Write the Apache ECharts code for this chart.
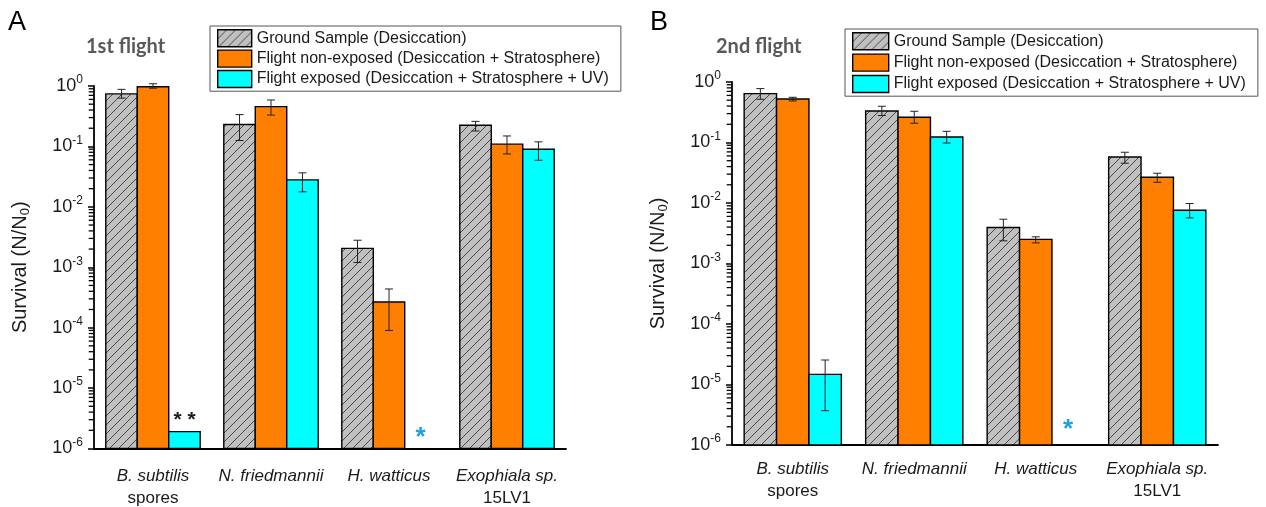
<!DOCTYPE html>
<html>
<head>
<meta charset="UTF-8">
<title>Survival after stratospheric flights</title>
<script src="https://cdn.jsdelivr.net/npm/echarts@6/dist/echarts.min.js"></script>
<style>
  html, body { margin: 0; padding: 0; background: #fff; }
  #chart { width: 1266px; height: 507px; }
</style>
</head>
<body>
<div id="chart"></div>
<script>
  const speciesNames = ['B. subtilis', 'N. friedmannii', 'H. watticus', 'Exophiala sp.'];
  const speciesExtra = ['spores', '', '', '15LV1'];
  const seriesNames = [
    'Ground Sample (Desiccation)',
    'Flight non-exposed (Desiccation + Stratosphere)',
    'Flight exposed (Desiccation + Stratosphere + UV)'
  ];

  // 1st flight: mean, lower and upper error bounds
  const ground1 = [0.74, 0.23, 0.00205, 0.224];
  const ground1Low = [0.63, 0.125, 0.0012, 0.18];
  const ground1High = [0.88, 0.336, 0.0028, 0.26];
  const nonExp1 = [0.97, 0.455, 2.66e-4, 0.109];
  const nonExp1Low = [0.92, 0.33, 9.0e-5, 0.075];
  const nonExp1High = [1.09, 0.587, 4.37e-4, 0.149];
  const exp1 = [1.9e-6, 0.0279, null, 0.0898];
  const exp1Low = [null, 0.0177, null, 0.059];
  const exp1High = [null, 0.0365, null, 0.119];

  // 2nd flight
  const ground2 = [0.643, 0.332, 0.00394, 0.0577];
  const ground2Low = [0.518, 0.279, 0.00237, 0.0454];
  const ground2High = [0.778, 0.397, 0.0054, 0.069];
  const nonExp2 = [0.525, 0.261, 0.0025, 0.0267];
  const nonExp2Low = [0.486, 0.208, 0.00219, 0.022];
  const nonExp2High = [0.559, 0.328, 0.00276, 0.031];
  const exp2 = [1.47e-5, 0.1235, null, 0.0076];
  const exp2Low = [3.69e-6, 0.098, null, 0.00568];
  const exp2High = [2.54e-5, 0.153, null, 0.0098];

  // asterisks marking samples below detection
  const notes1 = [
    { cat: 0, slot: 2, y: 2.9e-6, text: '* *', color: '#1a1a1a', size: 21 },
    { cat: 2, slot: 2, y: 1.5e-6, text: '*', color: '#1ea0e6', size: 26 }
  ];
  const notes2 = [
    { cat: 2, slot: 2, y: 1.75e-6, text: '*', color: '#1ea0e6', size: 26 }
  ];

  // minor ticks of the log axis: 2..9 in every decade
  const minorMult = [2, 3, 4, 5, 6, 7, 8, 9];
  const decades = [-6, -5, -4, -3, -2, -1];

  const FONT = 'Liberation Sans, Arial, sans-serif';

  // hatched grey fill
  const hatch = document.createElement('canvas');
  hatch.width = 9; hatch.height = 9;
  const hc = hatch.getContext('2d');
  hc.fillStyle = '#c0c0c0';
  hc.fillRect(0, 0, 9, 9);
  hc.strokeStyle = '#3a3a3a';
  hc.lineWidth = 0.9;
  hc.beginPath();
  hc.moveTo(-1, 10); hc.lineTo(10, -1);
  hc.moveTo(-1, 1); hc.lineTo(1, -1);
  hc.moveTo(8, 10); hc.lineTo(10, 8);
  hc.stroke();

  const fills = [{ image: hatch, repeat: 'repeat' }, '#ff8000', '#00ffff'];

  function rows(mean, low, high) {
    return mean.map((v, i) => [i, v, low[i], high[i]]);
  }

  function barRenderer(slot) {
    return function (params, api) {
      const v = api.value(1);
      if (!(v > 0)) return null;
      const cs = params.coordSys;
      const band = api.size([1, 1])[0];
      const bw = band * 0.8 / 3;
      const top = api.coord([api.value(0), v]);
      const cx = top[0] + (slot - 1) * bw;
      const bottom = cs.y + cs.height;
      const children = [{
        type: 'rect',
        shape: { x: cx - bw / 2, y: top[1], width: bw, height: bottom - top[1] },
        style: api.style()
      }];
      const lo = api.value(2), hi = api.value(3);
      if (lo > 0 && hi > 0) {
        const y1 = api.coord([0, lo])[1];
        const y2 = api.coord([0, hi])[1];
        const es = { stroke: '#222', lineWidth: 1 };
        children.push(
          { type: 'line', shape: { x1: cx, y1: y1, x2: cx, y2: y2 }, style: es },
          { type: 'line', shape: { x1: cx - 4, y1: y1, x2: cx + 4, y2: y1 }, style: es },
          { type: 'line', shape: { x1: cx - 4, y1: y2, x2: cx + 4, y2: y2 }, style: es }
        );
      }
      return { type: 'group', children: children };
    };
  }

  function barSeries(g, slot, data) {
    return {
      type: 'custom',
      name: seriesNames[slot],
      xAxisIndex: g, yAxisIndex: g,
      renderItem: barRenderer(slot),
      itemStyle: { color: fills[slot], borderColor: '#000', borderWidth: 1.4 },
      encode: { x: 0, y: [1, 2, 3] },
      clip: false,
      silent: true,
      z: 2,
      data: data
    };
  }

  const minorValues = [];
  decades.forEach(d => minorMult.forEach(m => minorValues.push([0, m * Math.pow(10, d)])));

  // drawn on a hidden value x axis so that x = 0 is the grid's left edge
  function minorSeries(g) {
    return {
      type: 'scatter',
      xAxisIndex: g + 2, yAxisIndex: g,
      silent: true, clip: false, z: 5,
      symbol: 'rect', symbolSize: [5, 1.3], symbolOffset: [-2.8, 0],
      itemStyle: { color: '#000', opacity: 1 },
      data: minorValues
    };
  }

  function noteSeries(g, notes) {
    return {
      type: 'custom',
      xAxisIndex: g, yAxisIndex: g,
      silent: true, clip: false, z: 5,
      encode: { x: 0, y: 1 },
      renderItem: function (params, api) {
        const n = notes[params.dataIndex];
        const band = api.size([1, 1])[0];
        const bw = band * 0.8 / 3;
        const p = api.coord([n.cat, n.y]);
        return {
          type: 'text',
          style: {
            x: p[0] + (n.slot - 1) * bw, y: p[1], text: n.text,
            fill: n.color, font: 'bold ' + n.size + 'px ' + FONT,
            align: 'center', verticalAlign: 'middle'
          }
        };
      },
      data: notes.map(n => [n.cat, n.y])
    };
  }

  function xAxis(g, margin) {
    return {
      type: 'category', gridIndex: g, data: speciesNames,
      axisLine: { lineStyle: { color: '#000', width: 1.8 } },
      axisTick: { alignWithLabel: true, length: 6, lineStyle: { width: 1.5 } },
      axisLabel: {
        interval: 0, margin: margin,
        formatter: (v, i) => speciesExtra[i] ? '{i|' + v + '}\n{n|' + speciesExtra[i] + '}' : '{i|' + v + '}',
        rich: {
          i: { fontStyle: 'italic', fontSize: 17, fontFamily: FONT, color: '#1a1a1a', lineHeight: 22 },
          n: { fontSize: 17, fontFamily: FONT, color: '#1a1a1a', lineHeight: 22 }
        }
      }
    };
  }

  function hiddenX(g) {
    return { type: 'value', gridIndex: g, min: 0, max: 1, show: false };
  }

  function yAxis(g) {
    return {
      type: 'log', gridIndex: g, logBase: 10, min: 1e-6, max: 1, splitNumber: 6,
      axisLine: { show: true, lineStyle: { color: '#000', width: 1.8 } },
      axisTick: { show: true, length: 6, lineStyle: { width: 1.5 } },
      splitLine: { show: false },
      axisLabel: {
        margin: 11,
        formatter: v => '{b|10}{s|' + Math.round(Math.log10(v)) + '}',
        rich: {
          b: { fontSize: 18, fontFamily: FONT, color: '#1a1a1a' },
          s: { fontSize: 12, fontFamily: FONT, color: '#1a1a1a', padding: [0, 0, 12, 0] }
        }
      },
      name: '{a|Survival (N/N}{s|0}{a|)}',
      nameLocation: 'middle', nameGap: 62, nameRotate: 90,
      nameTextStyle: {
        rich: {
          a: { fontSize: 20, fontFamily: FONT, color: '#1a1a1a' },
          s: { fontSize: 13, fontFamily: FONT, color: '#1a1a1a', padding: [10, 0, 0, 0] }
        }
      }
    };
  }

  function legend(left, top, itemWidth, gap) {
    return {
      data: seriesNames, orient: 'vertical', left: left, top: top,
      icon: 'rect', itemWidth: itemWidth, itemHeight: 17, itemGap: gap,
      padding: [3, 12, 3, 7], borderColor: '#555', borderWidth: 1,
      backgroundColor: '#fff', selectedMode: false,
      itemStyle: { borderColor: '#000', borderWidth: 1.4 },
      textStyle: { fontSize: 16, fontFamily: FONT, color: '#1a1a1a', padding: [0, 0, 0, 0] }
    };
  }

  const chart = echarts.init(document.getElementById('chart'));
  chart.setOption({
    animation: false,
    title: [
      { text: 'A', left: 8, top: 9, padding: 0, textStyle: { fontSize: 27, fontWeight: 'normal', fontFamily: FONT, color: '#000' } },
      { text: 'B', left: 650, top: 9, padding: 0, textStyle: { fontSize: 27, fontWeight: 'normal', fontFamily: FONT, color: '#000' } },
      { text: '1st flight', left: 86, top: 37, padding: 0, textStyle: { fontSize: 20, fontWeight: 'bold', fontFamily: 'Lato, sans-serif', color: '#595959' } },
      { text: '2nd flight', left: 716, top: 37, padding: 0, textStyle: { fontSize: 20, fontWeight: 'bold', fontFamily: 'Lato, sans-serif', color: '#595959' } }
    ],
    legend: [legend(210, 26, 34, 2), legend(845, 29, 36, 3)],
    grid: [
      { left: 94, top: 86, width: 472, height: 363 },
      { left: 732, top: 82, width: 486, height: 363 }
    ],
    xAxis: [xAxis(0, 17), xAxis(1, 13), hiddenX(0), hiddenX(1)],
    yAxis: [yAxis(0), yAxis(1)],
    series: [
      barSeries(0, 0, rows(ground1, ground1Low, ground1High)),
      barSeries(0, 1, rows(nonExp1, nonExp1Low, nonExp1High)),
      barSeries(0, 2, rows(exp1, exp1Low, exp1High)),
      barSeries(1, 0, rows(ground2, ground2Low, ground2High)),
      barSeries(1, 1, rows(nonExp2, nonExp2Low, nonExp2High)),
      barSeries(1, 2, rows(exp2, exp2Low, exp2High)),
      minorSeries(0), minorSeries(1),
      noteSeries(0, notes1), noteSeries(1, notes2)
    ]
  });
</script>
</body>
</html>
